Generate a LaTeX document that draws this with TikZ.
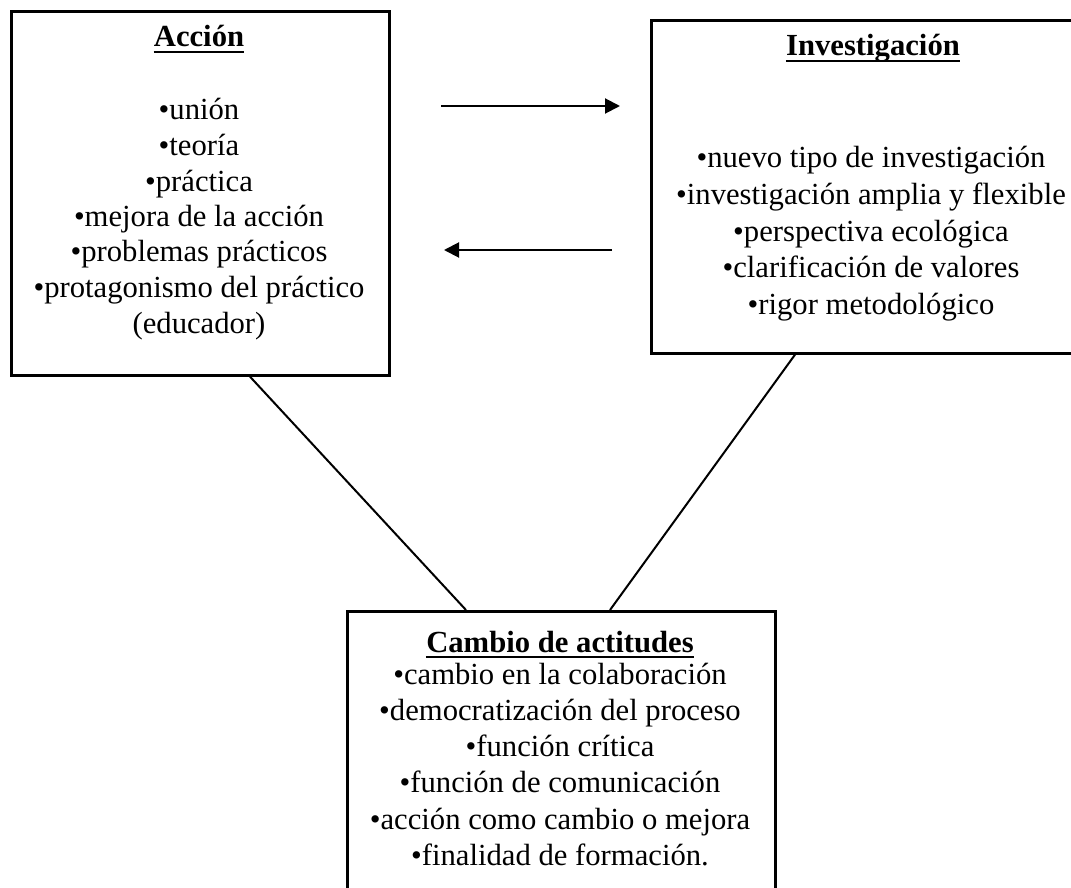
\documentclass[tikz,border=0pt]{standalone}
\usepackage{fontspec}
\setmainfont{Liberation Serif}
\usetikzlibrary{arrows.meta,calc}
\begin{document}
\begin{tikzpicture}[x=0.75pt,y=-0.75pt,
  box/.style={draw,line width=2pt,inner sep=0pt,anchor=north west},
  txt/.style={font=\fontsize{23}{27}\selectfont,inner sep=0pt,anchor=base},
  ttl/.style={font=\fontsize{23}{27}\selectfont\bfseries,inner sep=0pt,anchor=base},
  ul/.style={line width=1.5pt},
  arr/.style={line width=1.5pt,-{Triangle[length=11.25pt,width=11.25pt]}},
  link/.style={line width=1.5pt}]
\useasboundingbox (0,0) rectangle (1071,888);
\clip (0,0) rectangle (1071,888);
% boxes
\node[box,minimum width=283.5pt,minimum height=273pt] (acc) at (10,10) {};
\node[box,minimum width=337.5pt,minimum height=249.75pt] (inv) at (650,19) {};
\node[box,minimum width=321pt,minimum height=225pt] (cam) at (346,610) {};
% titles
\node[ttl] (accT) at (199,47) {Acción};
\draw[ul] ($(accT.base west)+(0,5)$) -- ($(accT.base east)+(0,5)$);
\node[ttl] (invT) at (873,56) {Investigación};
\draw[ul] ($(invT.base west)+(0,5)$) -- ($(invT.base east)+(0,5)$);
\node[ttl] (camT) at (560,652) {Cambio de actitudes};
\draw[ul] ($(camT.base west)+(0,5)$) -- ($(camT.base east)+(0,5)$);
% bullet lines
\foreach \t [count=\i] in {{•unión},{•teoría},{•práctica},{•mejora de la acción},{•problemas prácticos},{•protagonismo del práctico},{(educador)}}
  \node[txt] (acc\i) at (199,{120+35.5*(\i-1)}) {\t};
\foreach \t [count=\i] in {{•nuevo tipo de investigación},{•investigación amplia y flexible},{•perspectiva ecológica},{•clarificación de valores},{•rigor metodológico}}
  \node[txt] (inv\i) at (871,{168+36.5*(\i-1)}) {\t};
\foreach \t [count=\i] in {{•cambio en la colaboración},{•democratización del proceso},{•función crítica},{•función de comunicación},{•acción como cambio o mejora},{•finalidad de formación.}}
  \node[txt] (cam\i) at (560,{684+36.3*(\i-1)}) {\t};
% arrows
\coordinate (a1s) at (441,106);
\coordinate (a1e) at (620,106);
\coordinate (a2s) at (612,250);
\coordinate (a2e) at (444,250);
\draw[arr] (a1s) -- (a1e);
\draw[arr] (a2s) -- (a2e);
% connectors
\draw[link] ($(acc.south west)+(240,0)$) -- ($(cam.north west)+(120,0)$);
\draw[link] ($(inv.south west)+(145,0)$) -- ($(cam.north west)+(264,0)$);
\end{tikzpicture}
\end{document}
